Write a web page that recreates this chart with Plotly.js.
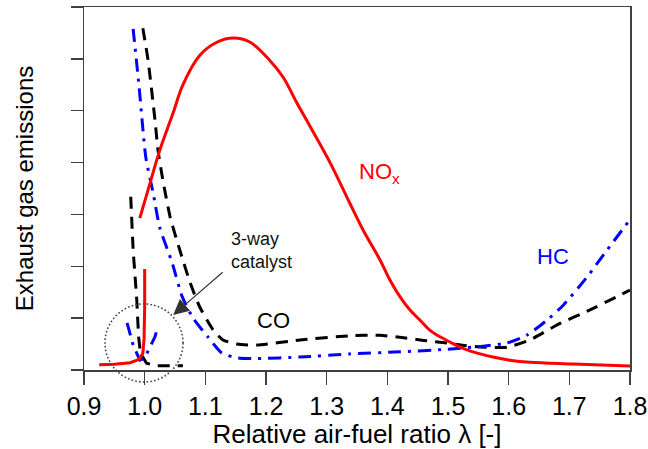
<!DOCTYPE html>
<html>
<head>
<meta charset="utf-8">
<script src="https://cdn.plot.ly/plotly-3.0.1.min.js"></script>
<style>html,body{margin:0;padding:0;background:#fff;}#chart{width:648px;height:449px;}</style>
</head>
<body>
<div id="chart"></div>
<script>
// ---- Data ----
// NOx, engine-out (solid red)
const noxLambda = [0.992, 1.009, 1.025, 1.047, 1.063, 1.091, 1.119, 1.146, 1.174, 1.207, 1.228, 1.251, 1.273, 1.306, 1.338, 1.360, 1.388, 1.404, 1.421, 1.437, 1.454, 1.470, 1.487, 1.503, 1.520, 1.536, 1.553, 1.574, 1.602, 1.635, 1.706, 1.8];
const noxValue  = [2.93, 3.61, 4.24, 4.96, 5.50, 6.07, 6.32, 6.40, 6.32, 5.96, 5.65, 5.15, 4.69, 3.99, 3.22, 2.70, 2.12, 1.74, 1.41, 1.16, 0.96, 0.77, 0.64, 0.54, 0.44, 0.37, 0.31, 0.25, 0.19, 0.15, 0.116, 0.077];
// NOx after 3-way catalyst
const noxCatLambda = [0.925, 0.95, 0.976, 0.990, 0.997, 0.999, 1.0, 1.0];
const noxCatValue  = [0.10, 0.11, 0.14, 0.20, 0.32, 0.6, 1.2, 1.95];

// CO, engine-out (black dashed)
const coLambda = [0.997, 1.0055, 1.017, 1.022, 1.030, 1.042, 1.058, 1.075, 1.091, 1.113, 1.129, 1.152, 1.185, 1.256, 1.338, 1.388, 1.427, 1.460, 1.498, 1.530, 1.558, 1.597, 1.635, 1.68, 1.734, 1.8];
const coValue  = [6.59, 5.98, 4.82, 4.24, 3.66, 2.95, 2.31, 1.68, 1.21, 0.77, 0.58, 0.50, 0.48, 0.58, 0.66, 0.67, 0.62, 0.57, 0.52, 0.47, 0.44, 0.44, 0.58, 0.87, 1.16, 1.54];
// CO after 3-way catalyst
const coCatLambda = [0.977, 0.981, 0.987, 0.990, 0.993, 1.003, 1.020, 1.063];
const coCatValue  = [3.34, 2.31, 1.35, 0.64, 0.33, 0.13, 0.08, 0.08];

// HC, engine-out (blue dash-dot)
const hcLambda = [0.981, 0.991, 1.002, 1.014, 1.025, 1.045, 1.062, 1.08, 1.104, 1.127, 1.154, 1.185, 1.256, 1.338, 1.421, 1.498, 1.558, 1.597, 1.63, 1.663, 1.69, 1.729, 1.762, 1.8];
const hcValue  = [6.58, 5.44, 4.09, 3.41, 2.74, 2.08, 1.41, 1.00, 0.64, 0.33, 0.23, 0.22, 0.25, 0.31, 0.35, 0.40, 0.46, 0.52, 0.67, 0.96, 1.25, 1.79, 2.31, 2.90];
// HC after 3-way catalyst
const hcCatLambda = [0.971, 0.981, 0.992, 1.0, 1.017, 1.022];
const hcCatValue  = [0.91, 0.48, 0.19, 0.23, 0.64, 0.85];

// Axis ticks
const xTickVals = [0.9, 1.0, 1.1, 1.2, 1.3, 1.4, 1.5, 1.6, 1.7, 1.8];
const xTickText = ["0.9", "1.0", "1.1", "1.2", "1.3", "1.4", "1.5", "1.6", "1.7", "1.8"];
const yTickVals = [0, 1, 2, 3, 4, 5, 6, 7];

// Labels
const curveLabels = ["NO<sub>x</sub>", "HC", "CO"];
const curveLabelLambda = [1.35, 1.673, 1.213];
const curveLabelValue = [3.8, 2.18, 0.96];
const catalystText = "3-way<br>catalyst";

// ---- Styles ----
const RED = "#ff0000", BLUE = "#0000ff", BLACK = "#000000", AX = "#404040";
const FONT = "Arial, 'Liberation Sans', sans-serif";
const dashCO = "12px,8px";
const dashHC = "13px,7px,3px,7px";

const traces = [
  {x: coLambda, y: coValue, mode: "lines", line: {color: BLACK, width: 3, dash: dashCO, shape: "spline", smoothing: 0.6}},
  {x: coCatLambda, y: coCatValue, mode: "lines", line: {color: BLACK, width: 3, dash: dashCO}},
  {x: hcLambda, y: hcValue, mode: "lines", line: {color: BLUE, width: 3, dash: dashHC, shape: "spline", smoothing: 0.6}},
  {x: hcCatLambda, y: hcCatValue, mode: "lines", line: {color: BLUE, width: 3, dash: dashHC}},
  {x: noxLambda, y: noxValue, mode: "lines", line: {color: RED, width: 3, shape: "spline", smoothing: 1.0}},
  {x: noxCatLambda, y: noxCatValue, mode: "lines", line: {color: RED, width: 3}}
];

const labelColors = [RED, BLUE, BLACK];
const annotations = curveLabels.map((t, i) => ({
  x: curveLabelLambda[i], y: curveLabelValue[i], xref: "x", yref: "y",
  text: t, showarrow: false, xanchor: i === 0 ? "left" : "center",
  font: {family: FONT, size: 22, color: labelColors[i]}
}));
annotations.push({
  x: 1.047, y: 1.06, xref: "x", yref: "y",
  ax: 1.131, ay: 1.91, axref: "x", ayref: "y",
  text: "", showarrow: true, arrowhead: 2, arrowsize: 2.6, arrowwidth: 1.2, arrowcolor: "#333333"
});
annotations.push({
  x: 1.139, y: 2.31, xref: "x", yref: "y", xanchor: "left", yanchor: "middle", align: "left",
  text: catalystText, showarrow: false,
  font: {family: FONT, size: 18, color: "#111111"}
});

const layout = {
  width: 648, height: 449,
  margin: {l: 84, r: 18, t: 7, b: 79, pad: 0},
  paper_bgcolor: "#ffffff", plot_bgcolor: "#ffffff",
  showlegend: false,
  font: {family: FONT, color: "#000000"},
  xaxis: {
    range: [0.9, 1.8], tickmode: "array", tickvals: xTickVals, ticktext: xTickText,
    ticks: "outside", ticklen: 13, tickwidth: 1.5, tickcolor: AX,
    showline: true, linecolor: AX, linewidth: 1.5, mirror: true,
    showgrid: false, zeroline: false,
    tickfont: {family: FONT, size: 25, color: "#000000"},
    title: {text: "Relative air-fuel ratio λ [-]", font: {family: FONT, size: 26, color: "#000000"}, standoff: 8}
  },
  yaxis: {
    range: [0, 7], tickmode: "array", tickvals: yTickVals, showticklabels: false,
    ticks: "outside", ticklen: 12, tickwidth: 1.5, tickcolor: AX,
    showline: true, linecolor: AX, linewidth: 1.5, mirror: true,
    showgrid: false, zeroline: false,
    title: {text: "Exhaust gas emissions", font: {family: FONT, size: 24, color: "#000000"}, standoff: 30}
  },
  shapes: [{
    type: "circle", xref: "x", yref: "paper",
    x0: 0.9346, x1: 1.0632, y0: -0.033, y1: 0.182,
    line: {color: "#444444", width: 1.6, dash: "1.6px,2.2px"}
  }],
  annotations: annotations
};

Plotly.newPlot("chart", traces, layout, {displayModeBar: false, staticPlot: true});
</script>
</body>
</html>
